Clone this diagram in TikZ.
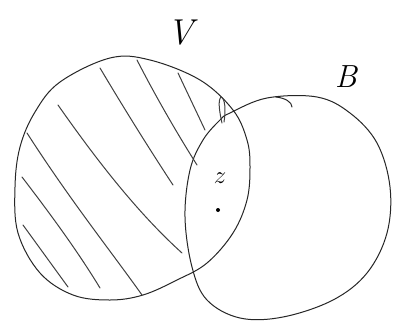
\documentclass[tikz,border=0pt]{standalone}
\usepackage{tikz}
\begin{document}
\begin{tikzpicture}[x=1pt,y=-1pt,
  pen/.style={draw=black!85,line width=1pt,line cap=round,line join=round},
  hatch/.style={draw=black!75,line width=1pt,line cap=round},
  lbl/.style={inner sep=0pt}]
\useasboundingbox[fill=white] (0,0) rectangle (401,327);
% circle V
\draw[pen] plot[smooth cycle,tension=0.6] coordinates{
 (110,58) (150,60) (200,80) (233,110) (247,140) (250,167) (247,200)
 (233,233) (207,263) (177,280) (143,295) (110,300) (73,295) (40,273)
 (18,233) (15,187) (20,147) (35,112) (60,82)};
% circle B
\draw[pen] plot[smooth cycle,tension=0.6] coordinates{
 (230,113) (267,98) (317,97) (350,113) (377,143) (390,187) (387,233)
 (367,273) (333,300) (283,317) (240,318) (207,300) (192,267) (185,217)
 (190,170) (203,140) (220,120)};
\draw[pen] (276,97) .. controls (285,98) and (292,102) .. (292,107);
% hatching
\draw[hatch] (23,225) -- (68,287);
\draw[hatch] (22,177) .. controls (55,220) and (80,255) .. (100,288);
\draw[hatch] (27,133) .. controls (70,200) and (110,250) .. (142,295);
\draw[hatch] (58,105) .. controls (100,165) and (140,215) .. (182,253);
\draw[hatch] (100,68) .. controls (125,110) and (150,150) .. (173,185);
\draw[hatch] (137,60) .. controls (155,95) and (175,130) .. (197,165);
\draw[hatch] (178,73) -- (205,130);
\draw[hatch] (222,123) .. controls (219,110) and (218,100) .. (221,97) .. controls (225,98) and (226,110) .. (224,122);
% labels
\node[lbl,font=\fontsize{36}{40}\selectfont] (V) at (181,33) {\itshape V};
\node[lbl,font=\fontsize{32}{36}\selectfont] (B) at (346,77) {\itshape B};
\node[lbl,font=\fontsize{24}{28}\selectfont] (z) at (220,178) {$z$};
\fill (218,210) circle (2);
\end{tikzpicture}
\end{document}
